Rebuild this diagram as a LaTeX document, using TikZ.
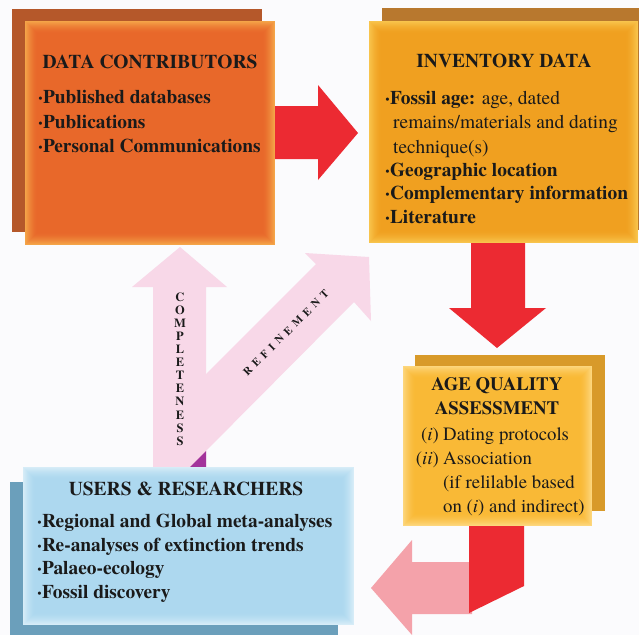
\documentclass[tikz,border=0pt]{standalone}
\usepackage{fontspec}
\setmainfont{texgyretermes}[Extension=.otf, UprightFont=*-regular, BoldFont=*-bold, ItalicFont=*-italic, BoldItalicFont=*-bolditalic]
\definecolor{bgc}{HTML}{FBFBFD}
\definecolor{txtc}{HTML}{1A1A1A}
\definecolor{tlback}{HTML}{B5582A}
\definecolor{tledge}{HTML}{F4A448}
\definecolor{tlmid}{HTML}{E8682A}
\definecolor{trback}{HTML}{B8782E}
\definecolor{tredge}{HTML}{F8C44C}
\definecolor{trmid}{HTML}{F0A020}
\definecolor{agback}{HTML}{D89A2A}
\definecolor{agedge}{HTML}{FDD67C}
\definecolor{agmid}{HTML}{F9B936}
\definecolor{usback}{HTML}{6B9FBB}
\definecolor{usedge}{HTML}{D6ECF7}
\definecolor{usmid}{HTML}{ADD8EF}
\definecolor{redar}{HTML}{EC2A32}
\definecolor{pinkar}{HTML}{F4A2AA}
\definecolor{lpink}{HTML}{F8D8E8}
\definecolor{purp}{HTML}{A3339B}
\newcommand\glowrect[6]{%
  \foreach \i in {0,...,12}{%
    \pgfmathsetmacro\p{100*(1-\i/12)^1.6}%
    \fill[#1!\p!#2] (#3+\i,#4+\i) rectangle (#5-\i,#6-\i);%
  }}
\newcommand\ls{\kern4.6pt}
\tikzset{
  hd/.style={anchor=base, inner sep=0, text=txtc, font=\bfseries\fontsize{19.5}{22}\selectfont},
  txt/.style={anchor=base west, inner sep=0, text=txtc},
  bt/.style={font=\bfseries\fontsize{19.4}{22}\selectfont},
  rg/.style={font=\fontsize{19.4}{22}\selectfont},
  ag/.style={font=\fontsize{18.8}{22}\selectfont},
  agh/.style={anchor=base, inner sep=0, text=txtc, font=\bfseries\fontsize{18.8}{22}\selectfont}
}
\begin{document}
\begin{tikzpicture}[x=1pt,y=-1pt]
\useasboundingbox (0,0) rectangle (639,635);
\fill[bgc] (0,0) rectangle (639,635);
% back rectangles
\fill[tlback] (12,9) rectangle (262,232);
\fill[trback] (382,8) rectangle (639,230);
\fill[agback] (415,355) rectangle (605,511);
\fill[usback] (10,482) rectangle (338,635);
% arrows
\fill[redar] (270,106) -- (318,106) -- (318,85) -- (358,133) -- (318,180) -- (318,159) -- (270,159) -- cycle;
\fill[redar] (471,238) -- (525,238) -- (525,308) -- (546,308) -- (497,348) -- (449,308) -- (471,308) -- cycle;
\fill[pinkar] (472,562) -- (412,562) -- (412,540) -- (371,588) -- (412,635) -- (412,614) -- (472,614) -- cycle;
\fill[redar] (469,520) -- (524,520) -- (524,586) -- (469,613) -- cycle;
\fill[lpink] (153,470) -- (153,287) -- (132,287) -- (180,247) -- (227,287) -- (206,287) -- (206,470) -- cycle;
\fill[lpink] (190,467) -- (354,302) -- (371,321) -- (369,257) -- (305,253) -- (316,264) -- (180,400) -- (180,467) -- cycle;
\fill[purp] (190,467) -- (206,451) -- (206,467) -- cycle;
% front rectangles
\glowrect{tledge}{tlmid}{25}{21}{275}{245}
\glowrect{tredge}{trmid}{369}{21}{638}{243}
\glowrect{agedge}{agmid}{403}{366}{592}{526}
\glowrect{usedge}{usmid}{23}{467}{354}{625}
% arrow labels
\node[inner sep=0, text=txtc, align=center, font=\bfseries\fontsize{12.5}{13.1}\selectfont] (compl) at (180,369)
  {C\\O\\M\\P\\L\\E\\T\\E\\N\\E\\S\\S};
\node[inner sep=0, text=txtc, rotate=45, font=\bfseries\fontsize{11}{12}\selectfont] (refin) at (286,333)
  {R\ls E\ls F\ls I\ls N\ls E\ls M\ls E\ls N\ls T};
% data contributors
\node[hd] (tlh) at (150,68) {DATA CONTRIBUTORS};
\node[txt,bt] (tl1) at (38,103) {·Published databases};
\node[txt,bt] (tl2) at (38,128) {·Publications};
\node[txt,bt] (tl3) at (38,152) {·Personal Communications};
% inventory
\node[hd] (trh) at (504,67) {INVENTORY DATA};
\node[txt,bt] (tr1) at (385,104) {·Fossil age: \mdseries age, dated};
\node[txt,rg] (tr2) at (393,128) {remains/materials and dating};
\node[txt,rg] (tr3) at (393,153) {technique(s)};
\node[txt,bt] (tr4) at (385,176) {·Geographic location};
\node[txt,bt] (tr5) at (385,199) {·Complementary information};
\node[txt,bt] (tr6) at (385,223) {·Literature};
% age quality
\node[agh] (agh1) at (497,390) {AGE QUALITY};
\node[agh] (agh2) at (497,414) {ASSESSMENT};
\node[inner sep=0, anchor=base east, text=txtc, ag] (agl1) at (439,440) {(\textit{i})};
\node[inner sep=0, anchor=base east, text=txtc, ag] (agl2) at (439,464) {(\textit{ii})};
\node[txt,ag] (ag1) at (443,440) {Dating protocols};
\node[txt,ag] (ag2) at (443,464) {Association};
\node[txt,ag] (ag3) at (443,488) {(if relilable based};
\node[txt,ag] (ag4) at (443,512) {on (\textit{i}) and indirect)};
% users
\node[hd] (ush) at (186,495) {USERS \& RESEARCHERS};
\node[txt,bt] (us1) at (37,527) {·Regional and Global meta-analyses};
\node[txt,bt] (us2) at (37,551) {·Re-analyses of extinction trends};
\node[txt,bt] (us3) at (37,574) {·Palaeo-ecology};
\node[txt,bt] (us4) at (37,598) {·Fossil discovery};
\end{tikzpicture}
\end{document}
